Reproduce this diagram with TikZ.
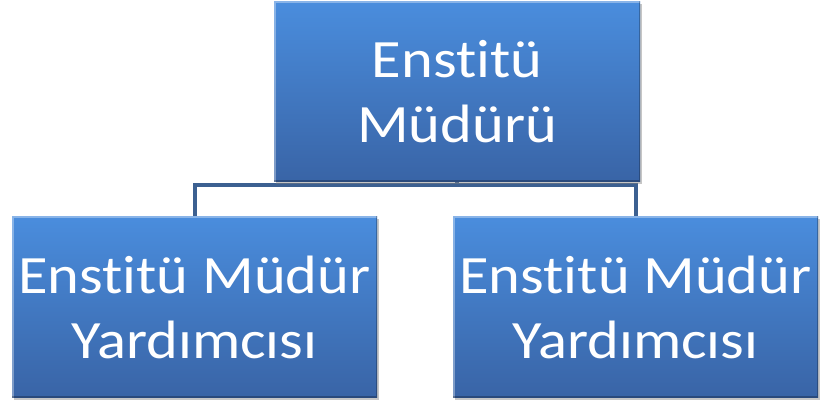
\documentclass[tikz,border=0pt]{standalone}
\usepackage{fontspec}
\newfontfamily\khungfont[FakeStretch=1.12,Ligatures=NoCommon]{Carlito}
\usetikzlibrary{shadows,backgrounds}
\definecolor{xanhtren}{RGB}{74,141,221}
\definecolor{xanhduoi}{RGB}{57,100,166}
\definecolor{xanhnoi}{RGB}{60,96,145}
% tách t-i (không ghép chữ)
\newcommand\tachti{t\kern0pt i}
\tikzset{
  khung/.style={rectangle,inner sep=0pt,align=center,text=white,
    minimum width=365pt,minimum height=181pt,
    top color=xanhtren,bottom color=xanhduoi,
    font=\khungfont\fontsize{54}{65}\selectfont,
    drop shadow={shadow xshift=1.5pt,shadow yshift=-2.5pt,opacity=0.45},
    path picture={
      \draw[white,opacity=0.35,line width=3pt]
        (path picture bounding box.south west) -- (path picture bounding box.north west)
        -- (path picture bounding box.north east);
      \draw[black,opacity=0.25,line width=3pt]
        (path picture bounding box.north east) -- (path picture bounding box.south east)
        -- (path picture bounding box.south west);}},
  noi/.style={draw=xanhnoi,line width=4pt,line join=miter}
}
\begin{document}
\begin{tikzpicture}[x=1pt,y=1pt,line join=round,line cap=round]
\useasboundingbox (0,0) rectangle (821,402);
% Vẽ các khung
\node[khung,minimum width=366pt,minimum height=180pt] (mudur) at (457,310) {Ens\tachti tü\\Müdürü};
\node[khung] (yard1) at (194.5,95) {Ens\tachti tü Müdür\\Yardımcısı};
\node[khung] (yard2) at (635.5,95) {Ens\tachti tü Müdür\\Yardımcısı};
% Vẽ đường nối (nằm dưới các khung)
\coordinate (thanh) at (457,217);
\begin{scope}[on background layer]
\draw[noi] (mudur.south) -- (thanh) -| (yard1.north);
\draw[noi] (thanh) -| (yard2.north);
\end{scope}
\end{tikzpicture}
\end{document}
